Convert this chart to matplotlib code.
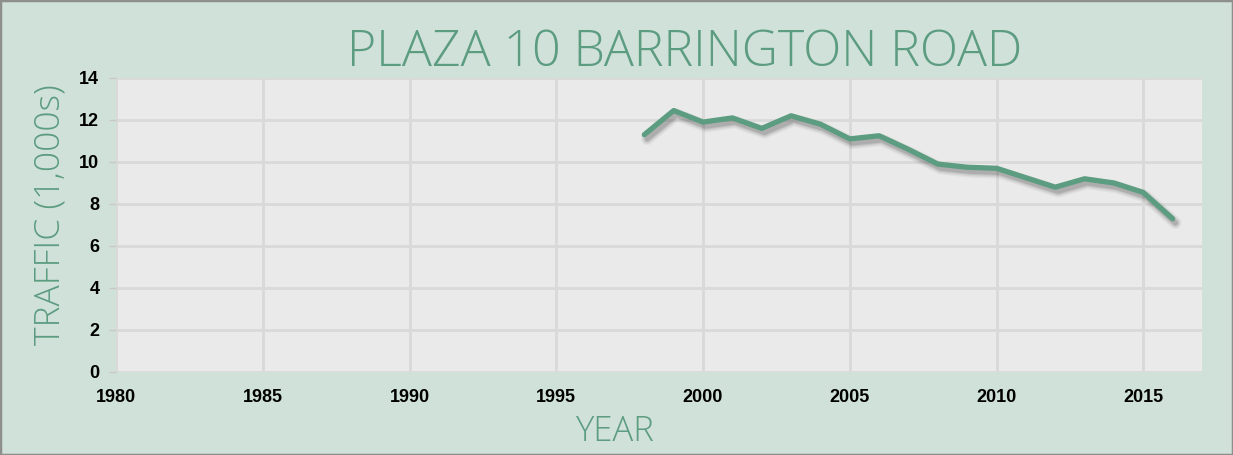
import matplotlib
matplotlib.use("Agg")
import matplotlib.pyplot as plt
import matplotlib.patheffects as pe
from matplotlib.patches import Rectangle

years = [1998, 1999, 2000, 2001, 2002, 2003, 2004, 2005, 2006, 2007,
         2008, 2009, 2010, 2011, 2012, 2013, 2014, 2015, 2016]
traffic = [11.3, 12.45, 11.9, 12.1, 11.6, 12.2, 11.8, 11.1, 11.25, 10.6,
           9.9, 9.75, 9.7, 9.25, 8.8, 9.2, 9.0, 8.55, 7.3]
x_ticks = [1980, 1985, 1990, 1995, 2000, 2005, 2010, 2015]
y_ticks = [0, 2, 4, 6, 8, 10, 12, 14]

title = "PLAZA 10 BARRINGTON ROAD"
xlabel = "YEAR"
ylabel = "TRAFFIC (1,000s)"

W, H = 1233, 455
bg = "#D0E1D9"
plot_bg = "#EAEAEA"
green = "#5C9C80"

fig = plt.figure(figsize=(W / 100, H / 100), dpi=100, facecolor=bg)
ax = fig.add_axes([116 / W, 1 - 372 / H, (1202 - 116) / W, (372 - 78) / H])
ax.set_facecolor(plot_bg)

line, = ax.plot(years, traffic, color=green, lw=3.8, solid_capstyle="round",
                solid_joinstyle="round", zorder=3)
shadow = []
for w, a in [(9, 0.04), (7, 0.06), (5, 0.08), (3.5, 0.10)]:
    shadow.append(pe.Stroke(offset=(2, -3), linewidth=w, foreground="black",
                            alpha=a, capstyle="round", joinstyle="round"))
line.set_path_effects(shadow + [pe.Normal()])

ax.set_xlim(1980, 2017)
ax.set_ylim(0, 14)
ax.set_xticks(x_ticks)
ax.set_yticks(y_ticks)
ax.grid(True, color="#D9D9D9", lw=2)
ax.set_axisbelow(True)
for s in ax.spines.values():
    s.set_visible(False)

tick_font = dict(family="Liberation Sans", weight="bold", size=13)
ax.set_xticklabels([str(t) for t in x_ticks], **tick_font)
ax.set_yticklabels([str(t) for t in y_ticks], **tick_font)
ax.tick_params(axis="x", length=0, pad=12.5)
ax.tick_params(axis="y", length=5, width=1, color="#C8C8C8", pad=7)

label_font = dict(family="Open Sans", weight="light", color=green)
fig.text(685 / W, 1 - 65.7 / H, title, ha="center", va="baseline",
         fontsize=36, **label_font)
fig.text(614 / W, 1 - 441 / H, xlabel, ha="center", va="baseline",
         fontsize=25, **label_font)
fig.text(50 / W, 1 - 215 / H, ylabel, ha="center", va="center",
         rotation=90, fontsize=25.5, **label_font)

fig.patches.append(Rectangle((0, 0), 1, 1, transform=fig.transFigure,
                             fill=False, edgecolor="#8E8E8E", lw=2.5))

fig.savefig("out.png", dpi=100, facecolor=bg)
